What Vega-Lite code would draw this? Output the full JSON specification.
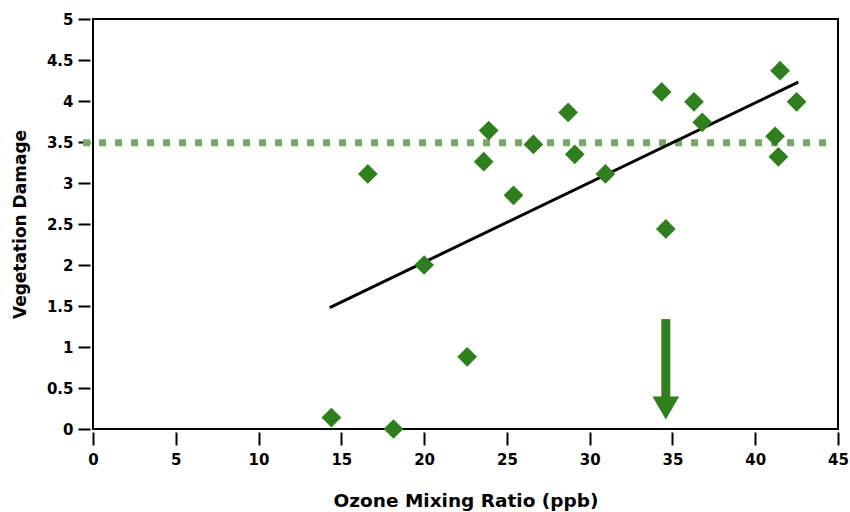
{
  "$schema": "https://vega.github.io/schema/vega-lite/v6.json",
  "width": 745,
  "height": 410,
  "autosize": "none",
  "padding": {"left": 93, "top": 19, "right": 12, "bottom": 83},
  "background": "white",
  "config": {
    "view": {"stroke": "black", "strokeWidth": 2},
    "axis": {
      "domain": false,
      "grid": false,
      "offset": 3,
      "labelFlush": false,
      "tickColor": "black",
      "tickWidth": 2,
      "tickSize": 12,
      "labelFont": "DejaVu Sans",
      "labelFontWeight": "bold",
      "labelFontSize": 15,
      "labelColor": "black",
      "titleFont": "DejaVu Sans",
      "titleFontWeight": "bold",
      "titleColor": "black"
    }
  },
  "datasets": {
    "points": [
      {"x": 14.4, "y": 0.14},
      {"x": 16.6, "y": 3.11},
      {"x": 18.15, "y": 0.0},
      {"x": 20.0, "y": 2.0},
      {"x": 22.6, "y": 0.88},
      {"x": 23.6, "y": 3.26},
      {"x": 23.9, "y": 3.64},
      {"x": 25.4, "y": 2.85},
      {"x": 26.6, "y": 3.47},
      {"x": 28.7, "y": 3.86},
      {"x": 29.1, "y": 3.35},
      {"x": 30.95, "y": 3.11},
      {"x": 34.35, "y": 4.11},
      {"x": 34.6, "y": 2.44},
      {"x": 36.3, "y": 3.99},
      {"x": 36.8, "y": 3.74},
      {"x": 41.2, "y": 3.57},
      {"x": 41.5, "y": 4.37},
      {"x": 41.4, "y": 3.32},
      {"x": 42.5, "y": 3.99}
    ],
    "trend": [
      {"x": 14.3, "y": 1.48},
      {"x": 42.6, "y": 4.23}
    ],
    "threshold": [
      {"x": -0.6, "x2": 44.4, "y": 3.49}
    ],
    "arrow": [
      {"x": 34.6, "y": 1.34, "y2": 0.38}
    ],
    "arrowhead": [
      {"x": 34.6, "y": 0.256}
    ]
  },
  "encoding": {
    "x": {
      "field": "x",
      "type": "quantitative",
      "scale": {"domain": [0, 45], "nice": false, "zero": false},
      "axis": {
        "values": [0, 5, 10, 15, 20, 25, 30, 35, 40, 45],
        "tickSize": 13,
        "labelPadding": 7,
        "title": "Ozone Mixing Ratio (ppb)",
        "titleFontSize": 18.5,
        "titlePadding": 24
      }
    },
    "y": {
      "field": "y",
      "type": "quantitative",
      "scale": {"domain": [0, 5], "nice": false, "zero": false},
      "axis": {
        "values": [0, 0.5, 1, 1.5, 2, 2.5, 3, 3.5, 4, 4.5, 5],
        "labelExpr": "'' + datum.value",
        "labelPadding": 5,
        "title": "Vegetation Damage",
        "titleFontSize": 17,
        "titlePadding": 17
      }
    }
  },
  "layer": [
    {
      "data": {"name": "threshold"},
      "mark": {"type": "rule", "color": "#7BA76B", "strokeWidth": 7, "strokeDash": [7, 9], "strokeCap": "butt"},
      "encoding": {"x2": {"field": "x2"}}
    },
    {
      "data": {"name": "trend"},
      "mark": {"type": "line", "color": "black", "strokeWidth": 3}
    },
    {
      "data": {"name": "points"},
      "mark": {"type": "point", "shape": "diamond", "filled": true, "size": 390, "color": "#2F7F1E", "opacity": 1}
    },
    {
      "data": {"name": "arrow"},
      "mark": {"type": "rule", "color": "#2F7F1E", "strokeWidth": 9, "strokeCap": "butt"},
      "encoding": {"y2": {"field": "y2"}}
    },
    {
      "data": {"name": "arrowhead"},
      "mark": {"type": "point", "shape": "triangle-down", "filled": true, "size": 713, "color": "#2F7F1E", "opacity": 1}
    }
  ]
}
